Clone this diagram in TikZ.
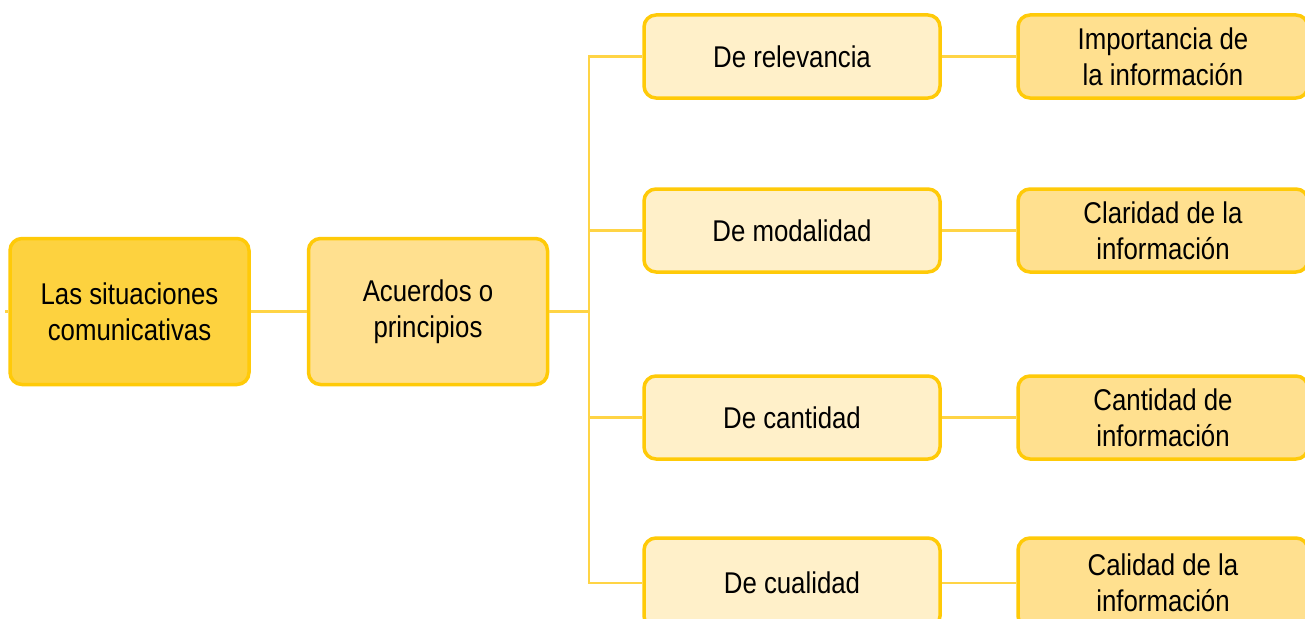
\documentclass[tikz,border=0pt]{standalone}
\usepackage{fontspec}
\setmainfont{Liberation Sans}[FakeStretch=0.86]
\definecolor{borde}{HTML}{FFCA08}
\definecolor{linea}{HTML}{FFD445}
\definecolor{fondoA}{HTML}{FDD23F}
\definecolor{fondoB}{HTML}{FFE08F}
\definecolor{fondoC}{HTML}{FFF0C9}
\tikzset{
  caja/.style={draw=borde, line width=3.5pt, rounded corners=12pt, align=center,
    font=\fontsize{30}{36}\selectfont, text=black, inner sep=0pt},
  raiz/.style={caja, fill=fondoA, minimum width=239pt, minimum height=146pt},
  acuerdo/.style={caja, fill=fondoB, minimum width=239pt, minimum height=146pt},
  rama/.style={caja, fill=fondoC, minimum width=296pt},
  hoja/.style={caja, fill=fondoB, minimum width=290pt},
  enlace/.style={draw=linea, line width=2.5pt}
}
\begin{document}
\begin{tikzpicture}[x=1pt, y=-1pt]
		\useasboundingbox (0,0) rectangle (1305,618);
		% tema y acuerdos
		\node[raiz] (sit) at (129.5,311.5) {Las situaciones\\comunicativas};
		\node[acuerdo] (acu) at (428,311.5) {Acuerdos o\\principios};
		% principios y lo que cuidan
		\foreach \n/\y/\h/\pri/\obj in {1/56.5/83/De relevancia/Importancia de\\la información,
			2/230.5/83/De modalidad/Claridad de la\\información,
			3/417.5/83/De cantidad/Cantidad de\\información,
			4/583/90/De cualidad/Calidad de la\\información}{
			\node[rama, minimum height=\h pt] (pri\n) at (792,\y) {\pri};
			\node[hoja, minimum height=\h pt] (obj\n) at (1163,\y) {\obj};
		}
		% conectores
		\coordinate (cabo) at (5,311.5);
		\coordinate (tronco) at (589,311.5);
		\draw[enlace] (cabo) -- (sit);
		\draw[enlace] (sit) -- (acu);
		\draw[enlace] (acu) -- (tronco);
		\draw[enlace] (pri1.west) -| (tronco) |- (pri4.west);
		\draw[enlace] (tronco |- pri2.west) -- (pri2);
		\draw[enlace] (tronco |- pri3.west) -- (pri3);
		\foreach \n in {1,...,4}{
			\draw[enlace] (pri\n) -- (obj\n);
		}
	\end{tikzpicture}
\end{document}
